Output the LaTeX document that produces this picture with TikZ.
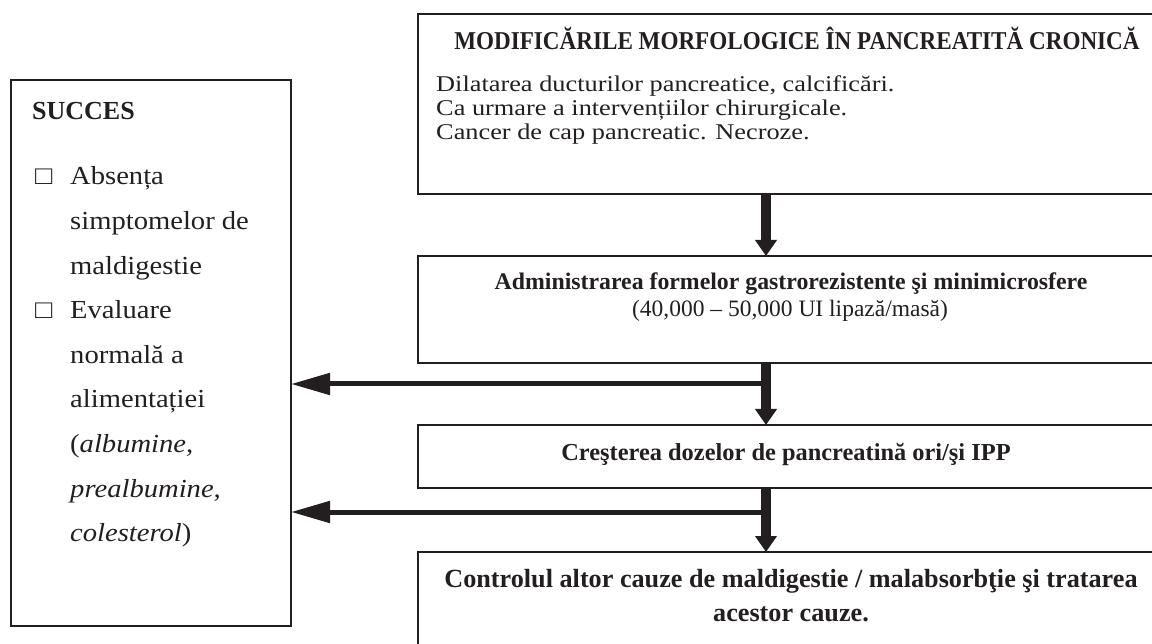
\documentclass[tikz,border=0pt]{standalone}
\usepackage{fontspec}
\setmainfont{Liberation Serif}
\newfontfamily\headfont[FakeStretch=0.9]{Liberation Serif}
\newfontfamily\bodyfont[FakeStretch=1.17]{Liberation Serif}
\newfontfamily\listfont[FakeStretch=1.1]{Liberation Serif}
\usetikzlibrary{arrows.meta,calc}

\definecolor{inkdark}{HTML}{231F20}

\begin{document}
\begin{tikzpicture}[x=1pt,y=-1pt,
    box/.style={draw=inkdark, line width=1.4pt, inner sep=0pt, outer sep=0pt, anchor=north west},
    txt/.style={inner sep=0pt, anchor=base, text=inkdark},
    varrow/.style={draw=inkdark, line width=10pt, -{Triangle[length=16pt,width=21pt]}},
    harrow/.style={draw=inkdark, line width=5pt, -{Triangle[length=39pt,width=21pt]}}]

    % Page frame
    \useasboundingbox (0,0) rectangle (1152,644);
    \fill[white] (0,0) rectangle (1152,644);
    \clip (0,0) rectangle (1152,644);

    % Boxes
    \node[box, minimum width=280, minimum height=546] (succes) at (11,80) {};
    \node[box, minimum width=746, minimum height=180] (morf) at (418,14) {};
    \node[box, minimum width=746, minimum height=107] (admin) at (418,256) {};
    \node[box, minimum width=746, minimum height=63] (doze) at (418,425) {};
    \node[box, minimum width=746, minimum height=120] (control) at (418,552) {};

    % Left box: SUCCES
    \node[txt, anchor=base west, font=\bfseries\fontsize{26}{30}\selectfont] (succesT) at (32,120) {SUCCES};
    \node[txt, anchor=base west, font=\listfont\fontsize{26}{30}\selectfont] (chk1) at (35,185) {□};
    \node[txt, anchor=base west, font=\listfont\fontsize{26}{30}\selectfont] (chk2) at (35,318.8) {□};
    \foreach \ln [count=\i from 0] in {Absența, simptomelor de, maldigestie, Evaluare, normală a,
        alimentației, {(\textit{albumine,}}, {\textit{prealbumine,}}, {\textit{colesterol})}}
        \node[txt, anchor=base west, font=\listfont\fontsize{26}{30}\selectfont] (item\i) at (70,185+44.6*\i) {\ln};

    % Top box: morphological changes
    \node[txt, font=\headfont\bfseries\fontsize{25.7}{30}\selectfont] (morfT) at (797,50)
        {MODIFICĂRILE MORFOLOGICE ÎN PANCREATITĂ CRONICĂ};
    \foreach \ln [count=\i from 0] in {{Dilatarea ducturilor pancreatice, calcificări.},
        {Ca urmare a intervențiilor chirurgicale.}, {Cancer de cap pancreatic. Necroze.}}
        \node[txt, anchor=base west, font=\bodyfont\fontsize{22.5}{26}\selectfont] (morf\i) at (436,92+23.8*\i) {\ln};

    % Treatment steps
    \node[txt, font=\bfseries\fontsize{23.8}{27}\selectfont] (admin1) at (791,290)
        {Administrarea formelor gastrorezistente şi minimicrosfere};
    \node[txt, font=\fontsize{23.5}{27}\selectfont] (admin2) at (790,317)
        {(40,000 – 50,000 UI lipază/masă)};
    \node[txt, font=\bfseries\fontsize{24.4}{28}\selectfont] (doze1) at (786,460)
        {Creşterea dozelor de pancreatină ori/şi IPP};
    \node[txt, font=\bfseries\fontsize{26.2}{34}\selectfont] (control1) at (791,587)
        {Controlul altor cauze de maldigestie / malabsorbţie şi tratarea};
    \node[txt, font=\bfseries\fontsize{26.2}{34}\selectfont] (control2) at (791,621)
        {acestor cauze.};

    % Arrows
    \coordinate (ax) at (766,0);
    \coordinate (br1) at (766,384);
    \coordinate (br2) at (766,512);
    \draw[varrow] (morf.south -| ax) -- (admin.north -| ax);
    \draw[varrow] (admin.south -| ax) -- (doze.north -| ax);
    \draw[varrow] (doze.south -| ax) -- (control.north -| ax);
    \draw[harrow] (br1) -- (br1 -| succes.east);
    \draw[harrow] (br2) -- (br2 -| succes.east);

\end{tikzpicture}
\end{document}
